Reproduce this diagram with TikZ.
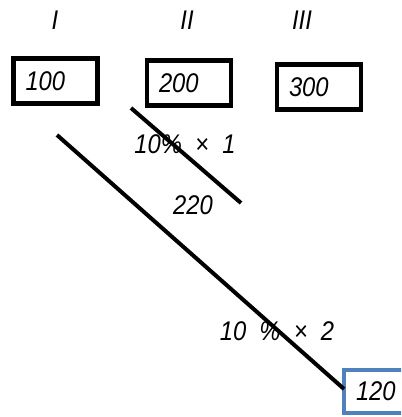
\documentclass[tikz,border=0pt]{standalone}
\usepackage{fontspec}
\setmainfont{Liberation Sans}[FakeStretch=0.88]
\begin{document}
\begin{tikzpicture}[x=1pt,y=-1pt,
  hand/.style={font=\fontsize{27}{32}\selectfont\itshape},
  valbox/.style={draw=black,line width=4.5pt,hand,minimum height=45pt,text width=#1,align=left,inner xsep=12pt,inner ysep=0pt},
  bluebox/.style={draw={rgb,255:red,79;green,129;blue,189},line width=4pt,hand,minimum height=43pt,text width=44pt,align=left,inner xsep=12pt,inner ysep=0pt},
  stroke/.style={line width=4pt,line cap=butt}]
\useasboundingbox (0,0) rectangle (401,417);
\begin{scope}
\clip (0,0) rectangle (401,417);
\node[hand] (t1) at (55,20) {I};
\node[hand] (t2) at (187,20) {II};
\node[hand] (t3) at (302,20) {III};
\node[valbox=60pt] (b1) at (55.5,81) {100};
\node[valbox=60pt] (b2) at (189,83) {200};
\node[valbox=60pt] (b3) at (319,87) {300};
\node[bluebox] (b4) at (378,391.5) {120};
\coordinate (s1) at (131,108);
\coordinate (s2) at (241,203);
\coordinate (l1) at (57,135);
\coordinate (l2) at (344,389);
\draw[stroke] (s1) -- (s2);
\draw[stroke] (l1) -- (l2);
\node[hand] (p1) at (185,144) {10\%\ \ ×\ \ 1};
\node[hand] (v1) at (193,205) {220};
\node[hand] (p2) at (277,331) {10\ \ \%\ \ ×\ \ 2};
\end{scope}
\end{tikzpicture}
\end{document}
